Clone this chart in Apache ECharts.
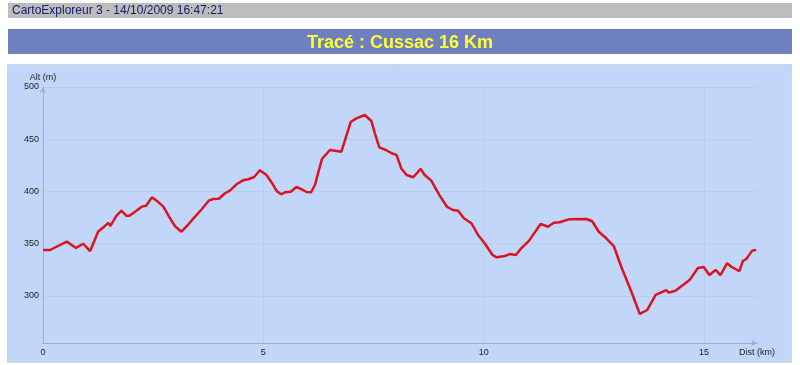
<!DOCTYPE html>
<html>
<head>
<meta charset="utf-8">
<script src="https://cdn.jsdelivr.net/npm/echarts@6/dist/echarts.min.js"></script>
<style>html,body{margin:0;padding:0;background:#fff;}#c{width:800px;height:365px;}</style>
</head>
<body>
<div id="c"></div>
<script>
const headerText = 'CartoExploreur 3 - 14/10/2009 16:47:21';
const titleText = 'Tracé : Cussac 16 Km';
const xTicks = [0, 5, 10, 15];
const yTicks = [300, 350, 400, 450, 500];
const dist = [0, 0.16, 0.54, 0.75, 0.91, 1.07, 1.25, 1.37, 1.48, 1.53, 1.66, 1.78, 1.90, 1.97, 2.12, 2.24, 2.34, 2.47, 2.58, 2.73, 2.86, 2.99, 3.14, 3.30, 3.45, 3.60, 3.76, 3.86, 3.99, 4.13, 4.24, 4.39, 4.54, 4.66, 4.79, 4.92, 5.07, 5.19, 5.30, 5.40, 5.49, 5.62, 5.75, 5.87, 5.98, 6.08, 6.17, 6.24, 6.33, 6.51, 6.77, 6.98, 7.11, 7.30, 7.45, 7.53, 7.63, 7.78, 7.91, 8.02, 8.13, 8.25, 8.40, 8.57, 8.66, 8.81, 9.00, 9.17, 9.30, 9.42, 9.55, 9.72, 9.87, 10.02, 10.20, 10.29, 10.48, 10.59, 10.73, 10.85, 11.02, 11.29, 11.46, 11.59, 11.72, 11.95, 12.33, 12.46, 12.61, 12.78, 12.95, 13.12, 13.35, 13.54, 13.71, 13.90, 14.14, 14.20, 14.35, 14.52, 14.67, 14.86, 14.99, 15.12, 15.26, 15.37, 15.52, 15.62, 15.80, 15.88, 15.96, 16.09, 16.18];
const alt = [344, 344, 352, 346, 350, 343, 361.5, 365.7, 370, 367, 376.5, 381.6, 376.5, 377, 381.6, 385.5, 386.4, 394.4, 391.2, 385.5, 376, 367, 361.5, 368.6, 376, 383, 391.2, 392.8, 393, 398.3, 400.8, 406.9, 410.7, 411.7, 413.9, 420.3, 415.8, 408.4, 400.5, 397.3, 399.2, 399.8, 404.3, 402, 399.5, 399.2, 406.2, 417.4, 431.1, 439.7, 438.1, 466.5, 470, 473.2, 467.5, 455.7, 442.3, 439.7, 436.6, 435, 422, 415.8, 413.6, 421.6, 415.8, 410.4, 396, 385.2, 382.3, 381.6, 374.4, 369.6, 358.4, 350.4, 339.2, 337, 338.3, 340.1, 339.2, 345.6, 352.5, 368.9, 366.3, 370.1, 370.5, 373.5, 373.7, 371.5, 361.5, 355.2, 347.8, 328, 304.1, 282.8, 286.6, 301, 305.7, 303.2, 305, 310.5, 315.3, 326.8, 327.7, 320, 324.9, 320, 331.3, 328, 323.7, 333.5, 335.5, 343.4, 344];

const chart = echarts.init(document.getElementById('c'), null, {renderer: 'canvas'});
const font = 'Liberation Sans, Arial, sans-serif';
chart.setOption({
  backgroundColor: '#ffffff',
  animation: false,
  graphic: {
    elements: [
      {type: 'rect', z: -10, shape: {x: 8, y: 3, width: 784, height: 15}, style: {fill: '#bdbdbd'}},
      {type: 'text', z: -9, left: 12, top: 5, style: {text: headerText, font: '12px ' + font, fill: '#14206a'}},
      {type: 'rect', z: -10, shape: {x: 8, y: 29, width: 784, height: 25}, style: {fill: '#6f80bf'}},
      {type: 'rect', z: -10, shape: {x: 7.5, y: 64.5, width: 784, height: 298}, style: {fill: '#c1d6f8', stroke: '#d2d2d2', lineWidth: 1}}
    ]
  },
  title: {
    text: titleText,
    left: 'center',
    top: 29,
    textStyle: {color: '#ffff33', fontSize: 18, fontWeight: 'bold', fontFamily: font}
  },
  grid: {left: 43, right: 43, top: 87, bottom: 22, containLabel: false},
  xAxis: {
    type: 'value',
    min: 0,
    max: 16.2,
    interval: 5,
    name: 'Dist (km)',
    nameLocation: 'end',
    nameGap: 0,
    nameTextStyle: {color: '#222', fontSize: 9, fontFamily: font, align: 'center', verticalAlign: 'top', padding: [5, 0, 0, 0]},
    axisLine: {show: true, lineStyle: {color: '#9ab0d2', width: 1}, symbol: ['none', 'arrow'], symbolSize: [5, 6]},
    axisTick: {show: false},
    axisLabel: {color: '#222', fontSize: 9, fontFamily: font, margin: 5, showMaxLabel: false},
    splitLine: {show: true, showMaxLine: false, lineStyle: {color: '#b7cef1', width: 1}}
  },
  yAxis: {
    type: 'value',
    min: 255,
    max: 500,
    name: 'Alt (m)',
    nameLocation: 'end',
    nameGap: 5,
    nameTextStyle: {color: '#222', fontSize: 9, fontFamily: font, align: 'center'},
    axisLine: {show: true, lineStyle: {color: '#9ab0d2', width: 1}, symbol: ['none', 'arrow'], symbolSize: [5, 6]},
    axisTick: {show: false, customValues: yTicks},
    axisLabel: {color: '#222', fontSize: 9, fontFamily: font, margin: 4, customValues: yTicks},
    splitLine: {show: true, lineStyle: {color: '#b7cef1', width: 1}}
  },
  series: [{
    type: 'line',
    z: 5,
    data: dist.map((d, i) => [d, alt[i]]),
    showSymbol: false,
    lineStyle: {color: '#dc1420', width: 2.5},
    itemStyle: {color: '#dc1420'}
  }]
});
</script>
</body>
</html>
